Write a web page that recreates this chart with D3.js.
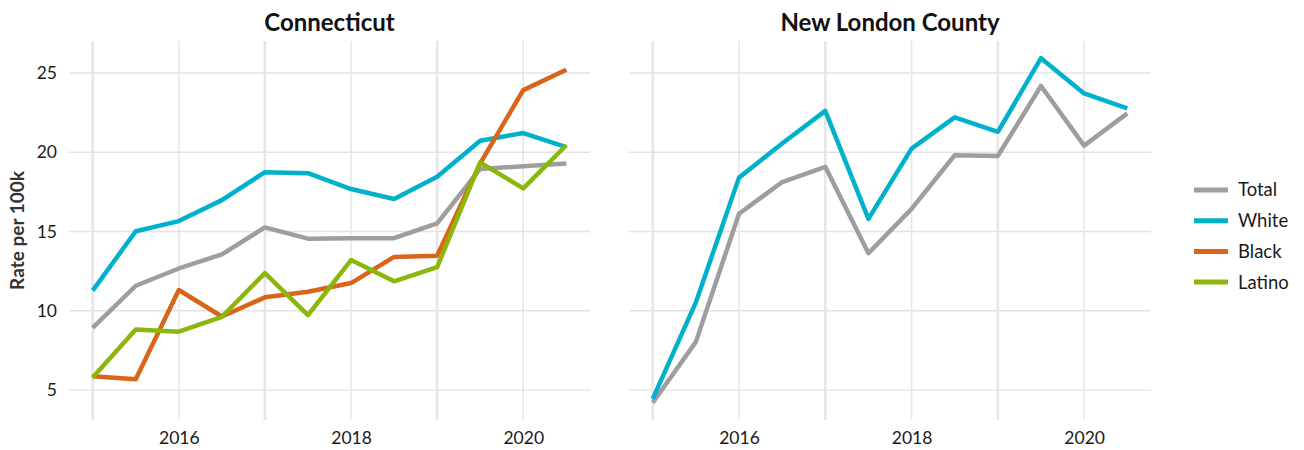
<!DOCTYPE html>
<html>
<head>
<meta charset="utf-8">
<script src="https://cdn.jsdelivr.net/npm/d3@7"></script>
<style>
  html, body { margin: 0; padding: 0; background: #fff; }
  svg { display: block; font-family: "Lato", "Open Sans", sans-serif; }
</style>
</head>
<body>
<svg id="chart" width="1304" height="450"></svg>
<script>
// ---- data ----
const years = [2015, 2015.5, 2016, 2016.5, 2017, 2017.5, 2018, 2018.5, 2019, 2019.5, 2020, 2020.5];
const groups = ["Total", "White", "Black", "Latino"];
const groupColors = ["#9e9e9e", "#00b1cc", "#d9641a", "#8ab70a"];
const panels = ["Connecticut", "New London County"];

const ctTotal  = [8.93, 11.58, 12.67, 13.56, 15.26, 14.55, 14.57, 14.58, 15.52, 18.95, 19.12, 19.29];
const ctWhite  = [11.27, 15.02, 15.66, 16.98, 18.74, 18.68, 17.68, 17.05, 18.46, 20.73, 21.21, 20.32];
const ctBlack  = [5.87, 5.68, 11.31, 9.64, 10.85, 11.2, 11.75, 13.4, 13.47, 19.3, 23.92, 25.2];
const ctLatino = [5.8, 8.82, 8.68, 9.62, 12.38, 9.73, 13.2, 11.86, 12.75, 19.36, 17.72, 20.44];

const nlTotal  = [4.2, 8.04, 16.12, 18.12, 19.08, 13.63, 16.43, 19.81, 19.77, 24.18, 20.42, 22.45];
const nlWhite  = [4.45, 10.53, 18.4, 20.55, 22.61, 15.8, 20.23, 22.2, 21.29, 25.93, 23.71, 22.76];

const yTicks = [5, 10, 15, 20, 25];
const xMajorTicks = [2016, 2018, 2020];
const xMinorTicks = [2015, 2017, 2019];

const panelSeries = [
  [ { group: "Total", values: ctTotal }, { group: "White", values: ctWhite },
    { group: "Black", values: ctBlack }, { group: "Latino", values: ctLatino } ],
  [ { group: "Total", values: nlTotal }, { group: "White", values: nlWhite } ]
];

// ---- layout ----
const svg = d3.select("#chart");
const panelX = [[69, 590], [629, 1151]];
const plotTop = 41, plotBottom = 420;

const allVals = panelSeries.flat().flatMap(s => s.values);
const yMin = d3.min(allVals), yMax = d3.max(allVals);
const yPad = (yMax - yMin) * 0.05;
const y = d3.scaleLinear().domain([yMin - yPad, yMax + yPad]).range([plotBottom, plotTop]);

const xPadYears = (years[years.length - 1] - years[0]) * 0.05;
const color = d3.scaleOrdinal().domain(groups).range(groupColors);

panels.forEach((name, i) => {
  const [x0, x1] = panelX[i];
  const x = d3.scaleLinear()
    .domain([years[0] - xPadYears, years[years.length - 1] + xPadYears])
    .range([x0, x1]);
  const g = svg.append("g");

  // horizontal grid
  g.selectAll("line.hgrid").data(yTicks).enter().append("line")
    .attr("x1", x0).attr("x2", x1)
    .attr("y1", d => y(d)).attr("y2", d => y(d))
    .attr("stroke", "#e3e3e3").attr("stroke-width", 1.4);
  // vertical minor grid (wider)
  g.selectAll("line.vminor").data(xMinorTicks).enter().append("line")
    .attr("x1", d => x(d)).attr("x2", d => x(d))
    .attr("y1", plotTop).attr("y2", plotBottom)
    .attr("stroke", "#e6e6e6").attr("stroke-width", 2.6);
  // vertical major grid
  g.selectAll("line.vmajor").data(xMajorTicks).enter().append("line")
    .attr("x1", d => x(d)).attr("x2", d => x(d))
    .attr("y1", plotTop).attr("y2", plotBottom)
    .attr("stroke", "#e6e6e6").attr("stroke-width", 1.5);

  // x axis labels
  const xAxis = d3.axisBottom(x).tickValues(xMajorTicks).tickFormat(d3.format("d")).tickSize(0).tickPadding(0);
  const xa = g.append("g").attr("transform", `translate(0,${plotBottom + 12})`).call(xAxis);
  xa.select(".domain").remove();
  xa.selectAll("text").attr("font-size", 17.5).attr("fill", "#1a1a1a").attr("dy", "0.71em")
    .attr("font-family", "Lato, sans-serif");

  // y axis labels (first panel only)
  if (i === 0) {
    const yAxis = d3.axisLeft(y).tickValues(yTicks).tickSize(0).tickPadding(0);
    const ya = g.append("g").attr("transform", `translate(${x0 - 12},0)`).call(yAxis);
    ya.select(".domain").remove();
    ya.selectAll("text").attr("font-size", 17.5).attr("fill", "#1a1a1a")
      .attr("font-family", "Lato, sans-serif");
  }

  // lines
  const line = d3.line().x((d, j) => x(years[j])).y(d => y(d));
  g.selectAll("path.series").data(panelSeries[i]).enter().append("path")
    .attr("d", d => line(d.values))
    .attr("fill", "none")
    .attr("stroke", d => color(d.group))
    .attr("stroke-width", 4.5)
    .attr("stroke-linejoin", "round");

  // title
  svg.append("text")
    .attr("x", (x0 + x1) / 2).attr("y", 31)
    .attr("text-anchor", "middle")
    .attr("font-size", 24).attr("font-weight", "bold").attr("fill", "#111")
    .text(name);
});

// y-axis title
svg.append("text")
  .attr("transform", `translate(24,${(plotTop + plotBottom) / 2}) rotate(-90)`)
  .attr("text-anchor", "middle")
  .attr("font-size", 19).attr("font-weight", "bold").attr("fill", "#333")
  .text("Rate per 100k");

// legend
const legend = svg.append("g").attr("transform", "translate(1194,190)");
groups.forEach((grp, k) => {
  const row = legend.append("g").attr("transform", `translate(0,${k * 30.7})`);
  row.append("line").attr("x1", 0).attr("x2", 34).attr("y1", 0).attr("y2", 0)
    .attr("stroke", color(grp)).attr("stroke-width", 5);
  row.append("text").attr("x", 44).attr("y", 0).attr("dy", "0.35em")
    .attr("font-size", 18.5).attr("fill", "#1a1a1a").text(grp);
});
</script>
</body>
</html>
